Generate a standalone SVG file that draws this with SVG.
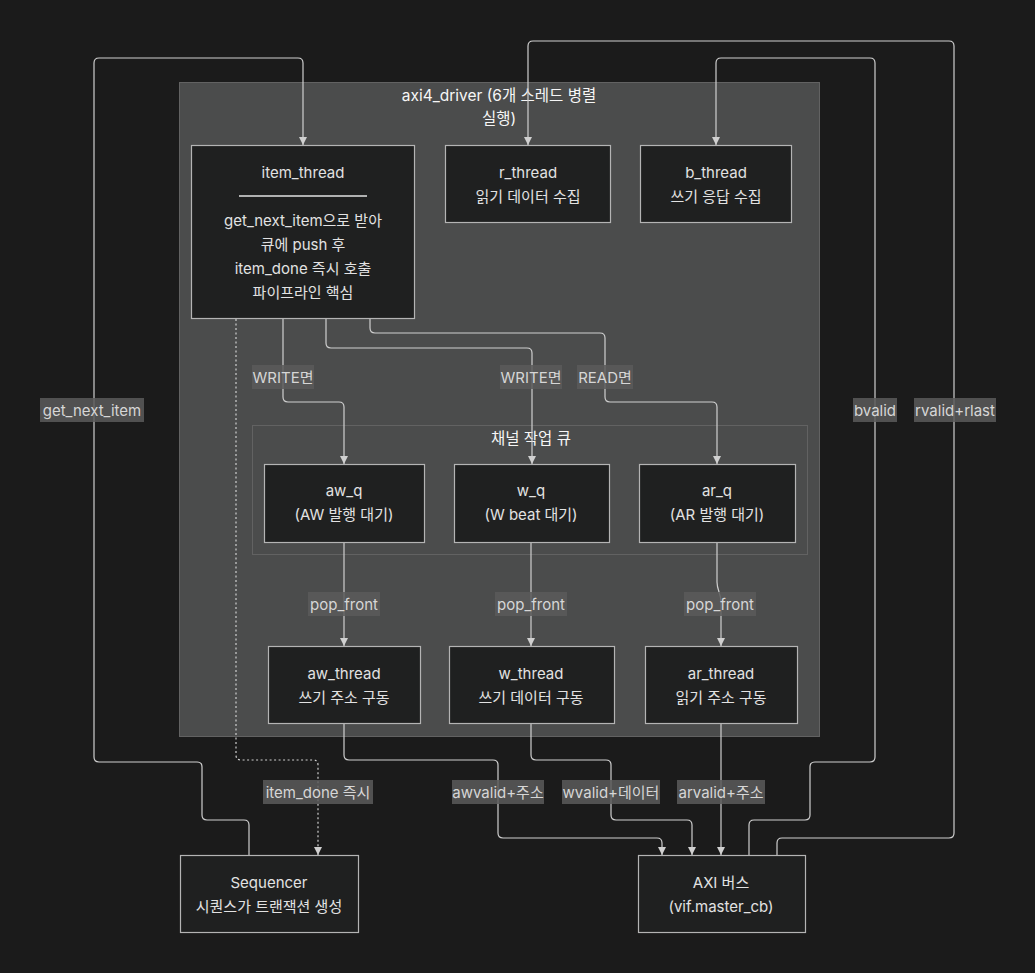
<svg xmlns="http://www.w3.org/2000/svg" width="1035" height="973" viewBox="0 0 1035 973">
<style>
text{font-family:Inter,"Noto Sans CJK KR",sans-serif;text-anchor:middle;dominant-baseline:central}
.cl{fill:#4b4c4c;stroke:#626262;stroke-width:1}
.nd{fill:#1f2020;stroke:#b4b4b4;stroke-width:1.2}
.nt{font-size:15px;fill:#e2e2e2}
.ct{font-size:15.5px;fill:#f6f6f6}
.e{fill:none;stroke:#cfcfcf;stroke-width:1.2;marker-end:url(#ah)}
.d{stroke-dasharray:2,2.5}
.lb{fill:#5a5a5a;opacity:0.85}
.lt{font-size:15px;fill:#d6d6d6}
</style>
<defs>
<marker id="ah" viewBox="0 0 10 10" refX="10" refY="5" markerWidth="8" markerHeight="8" markerUnits="userSpaceOnUse" orient="auto">
<path d="M0,0 L10,5 L0,10 z" fill="#d0d0d0"/>
</marker>
</defs>
<rect width="1035" height="973" fill="#1b1b1b"/>
<g id="cluster-axi4_driver">
<rect class="cl" x="179.5" y="82.5" width="640" height="654"/>
<text class="ct" x="499" y="95">axi4_driver (6개 스레드 병렬</text>
<text class="ct" x="499" y="118">실행)</text>
</g>
<g id="cluster-queues">
<rect class="cl" x="252.5" y="425.5" width="555" height="129"/>
<text class="ct" x="531" y="438">채널 작업 큐</text>
</g>
<g id="connectors">
<path class="e" d="M249,855 L249,825 Q249,820 244,820 L207,820 Q202,820 202,815 L202,767 Q202,762 197,762 L99,762 Q94,762 94,757 L94,63 Q94,58 99,58 L298,58 Q303,58 303,63 L303,145"/>
<path class="e d" d="M236,319 L236,755 Q236,760 241,760 L313,760 Q318,760 318,765 L318,855"/>
<path class="e" d="M344,724 L344,755 Q344,760 349,760 L493,760 Q498,760 498,765 L498,833 Q498,838 503,838 L657,838 Q662,838 662,843 L662,855"/>
<path class="e" d="M531,724 L531,755 Q531,760 536,760 L606,760 Q611,760 611,765 L611,815 Q611,820 616,820 L687,820 Q692,820 692,825 L692,855"/>
<path class="e" d="M721,724 L721,855"/>
<path class="e" d="M749,855 L749,825 Q749,820 754,820 L805,820 Q810,820 810,815 L810,767 Q810,762 815,762 L870,762 Q875,762 875,757 L875,63 Q875,58 870,58 L721,58 Q716,58 716,63 L716,145"/>
<path class="e" d="M777,855 L777,843 Q777,838 782,838 L949,838 Q954,838 954,833 L954,46 Q954,41 949,41 L533,41 Q528,41 528,46 L528,145"/>
<path class="e" d="M283,319 L283,397 Q283,402 288,402 L339,402 Q344,402 344,407 L344,464"/>
<path class="e" d="M326,319 L326,343 Q326,348 331,348 L527,348 Q532,348 532,353 L532,464"/>
<path class="e" d="M370,319 L370,328 Q370,333 375,333 L600,333 Q605,333 605,338 L605,397 Q605,402 610,402 L712,402 Q717,402 717,407 L717,464"/>
<path class="e" d="M344,543 L344,646"/>
<path class="e" d="M531,543 L531,646"/>
<path class="e" d="M717,543 L717,582 C717,590 721,594 721,602 L721,646"/>
<rect class="lb" x="40" y="398" width="104" height="24"/><text class="lt" x="92" y="410">get_next_item</text>
<rect class="lb" x="263" y="780" width="110" height="24"/><text class="lt" x="318" y="792">item_done 즉시</text>
<rect class="lb" x="452" y="780" width="92" height="24"/><text class="lt" x="498" y="792">awvalid+주소</text>
<rect class="lb" x="562" y="780" width="98" height="24"/><text class="lt" x="611" y="792">wvalid+데이터</text>
<rect class="lb" x="677" y="780" width="88" height="24"/><text class="lt" x="721" y="792">arvalid+주소</text>
<rect class="lb" x="853" y="398" width="44" height="24"/><text class="lt" x="875" y="410">bvalid</text>
<rect class="lb" x="914" y="398" width="82" height="24"/><text class="lt" x="955" y="410">rvalid+rlast</text>
<rect class="lb" x="252" y="365" width="62" height="24"/><text class="lt" x="283" y="377">WRITE면</text>
<rect class="lb" x="500" y="365" width="62" height="24"/><text class="lt" x="531" y="377">WRITE면</text>
<rect class="lb" x="577" y="365" width="56" height="24"/><text class="lt" x="605" y="377">READ면</text>
<rect class="lb" x="308" y="592" width="72" height="24"/><text class="lt" x="344" y="604">pop_front</text>
<rect class="lb" x="495" y="592" width="72" height="24"/><text class="lt" x="531" y="604">pop_front</text>
<rect class="lb" x="684" y="592" width="72" height="24"/><text class="lt" x="720" y="604">pop_front</text>
</g>
<g id="item_thread">
<rect class="nd" x="191.5" y="145.5" width="223" height="173"/>
<text class="nt" x="303" y="172">item_thread</text>
<line x1="239" y1="196" x2="367" y2="196" stroke="#e2e2e2" stroke-width="1.5"/>
<text class="nt" x="303" y="220">get_next_item으로 받아</text>
<text class="nt" x="303" y="244">큐에 push 후</text>
<text class="nt" x="303" y="268">item_done 즉시 호출</text>
<text class="nt" x="303" y="292">파이프라인 핵심</text>
</g>
<g id="r_thread">
<rect class="nd" x="445.5" y="145.5" width="165" height="77"/>
<text class="nt" x="528" y="172">r_thread</text>
<text class="nt" x="528" y="196">읽기 데이터 수집</text>
</g>
<g id="b_thread">
<rect class="nd" x="640.5" y="145.5" width="151" height="77"/>
<text class="nt" x="716" y="172">b_thread</text>
<text class="nt" x="716" y="196">쓰기 응답 수집</text>
</g>
<g id="aw_q">
<rect class="nd" x="264.5" y="464.5" width="160" height="78"/>
<text class="nt" x="344" y="490">aw_q</text>
<text class="nt" x="344" y="514">(AW 발행 대기)</text>
</g>
<g id="w_q">
<rect class="nd" x="454.5" y="464.5" width="155" height="78"/>
<text class="nt" x="531" y="490">w_q</text>
<text class="nt" x="531" y="514">(W beat 대기)</text>
</g>
<g id="ar_q">
<rect class="nd" x="639.5" y="464.5" width="156" height="78"/>
<text class="nt" x="717" y="490">ar_q</text>
<text class="nt" x="717" y="514">(AR 발행 대기)</text>
</g>
<g id="aw_thread">
<rect class="nd" x="268.5" y="646.5" width="152" height="77"/>
<text class="nt" x="344" y="673">aw_thread</text>
<text class="nt" x="344" y="697">쓰기 주소 구동</text>
</g>
<g id="w_thread">
<rect class="nd" x="449.5" y="646.5" width="165" height="77"/>
<text class="nt" x="531" y="673">w_thread</text>
<text class="nt" x="531" y="697">쓰기 데이터 구동</text>
</g>
<g id="ar_thread">
<rect class="nd" x="645.5" y="646.5" width="152" height="77"/>
<text class="nt" x="721" y="673">ar_thread</text>
<text class="nt" x="721" y="697">읽기 주소 구동</text>
</g>
<g id="sequencer">
<rect class="nd" x="180.5" y="855.5" width="178" height="77"/>
<text class="nt" x="269" y="882">Sequencer</text>
<text class="nt" x="269" y="906">시퀀스가 트랜잭션 생성</text>
</g>
<g id="axi_bus">
<rect class="nd" x="638.5" y="855.5" width="167" height="77"/>
<text class="nt" x="721" y="882">AXI 버스</text>
<text class="nt" x="721" y="906">(vif.master_cb)</text>
</g>
</svg>
